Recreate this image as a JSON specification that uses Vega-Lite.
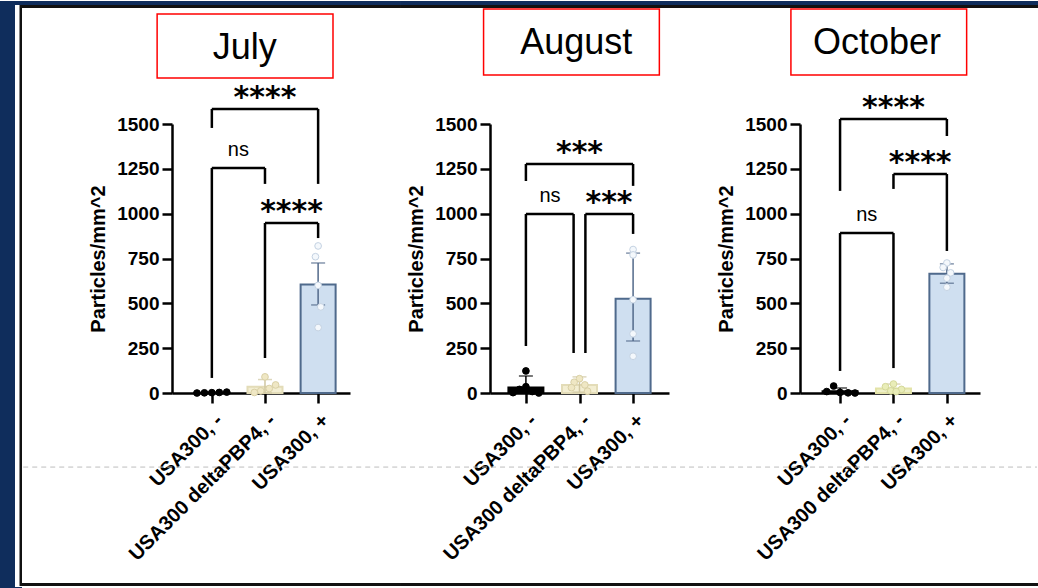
{
  "$schema": "https://vega.github.io/schema/vega-lite/v6.json",
  "padding": 0,
  "background": "white",
  "datasets": {
    "titles": [
      {"month": "July"}, {"month": "August"}, {"month": "October"}
    ],
    "bars": [
      {"month": "July", "g": 1, "mean": 2, "lo": 0, "hi": 6},
      {"month": "July", "g": 2, "mean": 35, "lo": 0, "hi": 75},
      {"month": "July", "g": 3, "mean": 605, "lo": 491, "hi": 725},
      {"month": "August", "g": 1, "mean": 31, "lo": 0, "hi": 95},
      {"month": "August", "g": 2, "mean": 45, "lo": 5, "hi": 90},
      {"month": "August", "g": 3, "mean": 525, "lo": 290, "hi": 780},
      {"month": "October", "g": 1, "mean": 10, "lo": 0, "hi": 28},
      {"month": "October", "g": 2, "mean": 25, "lo": 5, "hi": 50},
      {"month": "October", "g": 3, "mean": 665, "lo": 612, "hi": 720}
    ],
    "points": [
      {"month": "July", "g": 1, "xj": 0.72, "value": 0},
      {"month": "July", "g": 1, "xj": 0.86, "value": 1},
      {"month": "July", "g": 1, "xj": 1.0, "value": 2},
      {"month": "July", "g": 1, "xj": 1.14, "value": 3},
      {"month": "July", "g": 1, "xj": 1.28, "value": 5},
      {"month": "July", "g": 2, "xj": 1.8, "value": 3},
      {"month": "July", "g": 2, "xj": 1.92, "value": 12},
      {"month": "July", "g": 2, "xj": 2.08, "value": 25},
      {"month": "July", "g": 2, "xj": 2.2, "value": 45},
      {"month": "July", "g": 2, "xj": 2.0, "value": 90},
      {"month": "July", "g": 3, "xj": 3.0, "value": 820},
      {"month": "July", "g": 3, "xj": 2.95, "value": 760},
      {"month": "July", "g": 3, "xj": 3.0, "value": 600},
      {"month": "July", "g": 3, "xj": 3.05, "value": 480},
      {"month": "July", "g": 3, "xj": 3.0, "value": 365},
      {"month": "August", "g": 1, "xj": 1.0, "value": 123},
      {"month": "August", "g": 1, "xj": 1.0, "value": 35},
      {"month": "August", "g": 1, "xj": 0.88, "value": 20},
      {"month": "August", "g": 1, "xj": 1.12, "value": 8},
      {"month": "August", "g": 1, "xj": 0.76, "value": 2},
      {"month": "August", "g": 1, "xj": 1.24, "value": 0},
      {"month": "August", "g": 2, "xj": 2.0, "value": 80},
      {"month": "August", "g": 2, "xj": 1.9, "value": 60},
      {"month": "August", "g": 2, "xj": 2.1, "value": 45},
      {"month": "August", "g": 2, "xj": 1.85, "value": 30},
      {"month": "August", "g": 2, "xj": 2.15, "value": 10},
      {"month": "August", "g": 3, "xj": 3.0, "value": 800},
      {"month": "August", "g": 3, "xj": 3.0, "value": 770},
      {"month": "August", "g": 3, "xj": 3.0, "value": 520},
      {"month": "August", "g": 3, "xj": 3.0, "value": 330},
      {"month": "August", "g": 3, "xj": 3.0, "value": 205},
      {"month": "October", "g": 1, "xj": 0.88, "value": 39},
      {"month": "October", "g": 1, "xj": 0.75, "value": 8},
      {"month": "October", "g": 1, "xj": 1.0, "value": 3},
      {"month": "October", "g": 1, "xj": 1.15, "value": 1},
      {"month": "October", "g": 1, "xj": 1.28, "value": 0},
      {"month": "October", "g": 2, "xj": 2.0, "value": 50},
      {"month": "October", "g": 2, "xj": 1.85, "value": 35},
      {"month": "October", "g": 2, "xj": 2.15, "value": 20},
      {"month": "October", "g": 2, "xj": 1.95, "value": 12},
      {"month": "October", "g": 2, "xj": 2.05, "value": 8},
      {"month": "October", "g": 3, "xj": 3.0, "value": 725},
      {"month": "October", "g": 3, "xj": 2.93, "value": 700},
      {"month": "October", "g": 3, "xj": 3.07, "value": 670},
      {"month": "October", "g": 3, "xj": 3.0, "value": 640},
      {"month": "October", "g": 3, "xj": 3.0, "value": 590}
    ],
    "brackets": [
      {"month": "July", "x1": 1, "x2": 3, "xm": 2, "y": 1584, "l1": 1478, "l2": 1166, "label": "****"},
      {"month": "July", "x1": 1, "x2": 2, "xm": 1.5, "y": 1255, "l1": 84, "l2": 1166, "label": "ns"},
      {"month": "July", "x1": 2, "x2": 3, "xm": 2.5, "y": 948, "l1": 195, "l2": 864, "label": "****"},
      {"month": "August", "x1": 1, "x2": 3, "xm": 2, "y": 1277, "l1": 1182, "l2": 1155, "label": "***"},
      {"month": "August", "x1": 1, "x2": 1.89, "xm": 1.45, "y": 998, "l1": 262, "l2": 223, "label": "ns"},
      {"month": "August", "x1": 2.11, "x2": 3, "xm": 2.55, "y": 998, "l1": 223, "l2": 887, "label": "***"},
      {"month": "October", "x1": 1, "x2": 3, "xm": 2, "y": 1528, "l1": 1127, "l2": 1433, "label": "****"},
      {"month": "October", "x1": 2, "x2": 3, "xm": 2.5, "y": 1221, "l1": 1138, "l2": 792, "label": "****"},
      {"month": "October", "x1": 1, "x2": 2, "xm": 1.5, "y": 892, "l1": 123, "l2": 139, "label": "ns"}
    ]
  },
  "hconcat": [
    {
      "width": 22,
      "height": 465,
      "data": {"values": [{}]},
      "layer": [
        {
          "mark": {"type": "rect", "color": "#0f2d5c"},
          "encoding": {
            "x": {"datum": 0, "type": "quantitative", "scale": {"domain": [0, 22], "nice": false, "zero": false, "padding": 0}, "axis": null},
            "x2": {"datum": 22},
            "y": {"datum": 0, "type": "quantitative", "scale": {"domain": [0, 465], "nice": false, "padding": 0}, "axis": null},
            "y2": {"datum": 588}
          }
        },
        {
          "mark": {"type": "rect", "color": "white"},
          "encoding": {
            "x": {"datum": 15, "type": "quantitative"},
            "x2": {"datum": 22},
            "y": {"datum": 2, "type": "quantitative"},
            "y2": {"datum": 584}
          }
        },
        {
          "mark": {"type": "rect", "color": "#111111"},
          "encoding": {
            "x": {"datum": 19.5, "type": "quantitative"},
            "x2": {"datum": 22},
            "y": {"datum": 3, "type": "quantitative"},
            "y2": {"datum": 584}
          }
        }
      ]
    },
    {
      "hconcat": [
        {
          "width": 178,
          "height": 269,
          "layer": [
            {
              "data": {"name": "titles"},
              "transform": [{"filter": "datum.month == 'July'"}],
              "mark": {"type": "rect", "color": "#0f2d5c"},
              "encoding": {
                "x": {"datum": -2.573, "type": "quantitative"},
                "x2": {"datum": 4.541},
                "y": {"datum": 2164, "type": "quantitative"},
                "y2": {"datum": 2186}
              }
            },
            {
              "data": {"name": "titles"},
              "transform": [{"filter": "datum.month == 'July'"}],
              "mark": {"type": "rect", "color": "#111111"},
              "encoding": {
                "x": {"datum": -2.573, "type": "quantitative"},
                "x2": {"datum": 4.541},
                "y": {"datum": 2147, "type": "quantitative"},
                "y2": {"datum": 2164}
              }
            },
            {
              "data": {"name": "titles"},
              "transform": [{"filter": "datum.month == 'July'"}],
              "mark": {"type": "rect", "color": "#111111"},
              "encoding": {
                "x": {"datum": -2.573, "type": "quantitative"},
                "x2": {"datum": 4.541},
                "y": {"datum": -1076, "type": "quantitative"},
                "y2": {"datum": -1060}
              }
            },
            {
              "data": {"name": "titles"},
              "transform": [{"filter": "datum.month == 'July'"}],
              "mark": {"type": "rule", "color": "#bdbdbd", "strokeWidth": 1, "strokeDash": [5, 4]},
              "encoding": {
                "x": {"datum": -2.55, "type": "quantitative"},
                "x2": {"datum": 4.52},
                "y": {"datum": -413, "type": "quantitative"}
              }
            },
            {
              "data": {"name": "titles"},
              "transform": [{"filter": "datum.month == 'July'"}],
              "mark": {"type": "rect", "fill": "white", "stroke": "#ff0000", "strokeWidth": 1.5},
              "encoding": {
                "x": {"datum": -0.03, "type": "quantitative"},
                "x2": {"datum": 3.28},
                "y": {"datum": 1756, "type": "quantitative"},
                "y2": {"datum": 2113}
              }
            },
            {
              "data": {"name": "titles"},
              "transform": [{"filter": "datum.month == 'July'"}],
              "mark": {"type": "text", "fontSize": 36, "font": "Liberation Sans", "baseline": "middle", "align": "center", "color": "black"},
              "encoding": {
                "x": {"datum": 1.62, "type": "quantitative"},
                "y": {"datum": 1924, "type": "quantitative"},
                "text": {"field": "month"}
              }
            },
            {
              "data": {"name": "bars"},
              "transform": [{"filter": "datum.month == 'July'"}],
              "mark": {"type": "bar", "width": 35, "strokeWidth": 2},
              "encoding": {
                "x": {"field": "g", "type": "quantitative", "scale": {"domain": [0.25, 3.6], "nice": false, "zero": false, "padding": 0},
                  "axis": {"values": [1, 2, 3], "title": null, "labelAngle": -45, "labelExpr": "datum.value == 1 ? 'USA300, -' : datum.value == 2 ? 'USA300 deltaPBP4, -' : 'USA300, +'"}},
                "y": {"field": "mean", "type": "quantitative", "scale": {"domain": [0, 1500], "nice": false, "padding": 0},
                  "axis": {"values": [0, 250, 500, 750, 1000, 1250, 1500], "format": "d", "title": "Particles/mm^2"}},
                "fill": {"field": "g", "type": "nominal", "scale": {"domain": [1, 2, 3], "range": ["#000000", "#f3eed2", "#cfdff0"]}, "legend": null},
                "stroke": {"field": "g", "type": "nominal", "scale": {"domain": [1, 2, 3], "range": ["#000000", "#e3dcb8", "#4f6a8c"]}, "legend": null}
              }
            },
            {
              "data": {"name": "bars"},
              "transform": [{"filter": "datum.month == 'July'"}],
              "mark": {"type": "rule", "strokeWidth": 1.5},
              "encoding": {
                "x": {"field": "g", "type": "quantitative"},
                "y": {"field": "lo", "type": "quantitative"},
                "y2": {"field": "hi"},
                "color": {"field": "g", "type": "nominal", "scale": {"domain": [1, 2, 3], "range": ["#000000", "#cfc6a0", "#52698a"]}, "legend": null}
              }
            },
            {
              "data": {"name": "bars"},
              "transform": [{"filter": "datum.month == 'July'"}],
              "mark": {"type": "tick", "orient": "horizontal", "size": 14, "thickness": 1.5},
              "encoding": {
                "x": {"field": "g", "type": "quantitative"},
                "y": {"field": "hi", "type": "quantitative"},
                "color": {"field": "g", "type": "nominal", "scale": {"domain": [1, 2, 3], "range": ["#000000", "#cfc6a0", "#52698a"]}, "legend": null}
              }
            },
            {
              "data": {"name": "bars"},
              "transform": [{"filter": "datum.month == 'July'"}],
              "mark": {"type": "tick", "orient": "horizontal", "size": 14, "thickness": 1.5},
              "encoding": {
                "x": {"field": "g", "type": "quantitative"},
                "y": {"field": "lo", "type": "quantitative"},
                "color": {"field": "g", "type": "nominal", "scale": {"domain": [1, 2, 3], "range": ["#000000", "#cfc6a0", "#52698a"]}, "legend": null}
              }
            },
            {
              "data": {"name": "points"},
              "transform": [{"filter": "datum.month == 'July'"}],
              "mark": {"type": "point", "filled": false, "shape": "circle", "size": 45, "strokeWidth": 1, "opacity": 1},
              "encoding": {
                "x": {"field": "xj", "type": "quantitative"},
                "y": {"field": "value", "type": "quantitative"},
                "fill": {"field": "g", "type": "nominal", "scale": {"domain": [1, 2, 3], "range": ["#000000", "#efe7c4", "#f4f8fc"]}, "legend": null},
                "stroke": {"field": "g", "type": "nominal", "scale": {"domain": [1, 2, 3], "range": ["#000000", "#d9d0a6", "#c4d2e2"]}, "legend": null}
              }
            },
            {
              "data": {"name": "brackets"},
              "transform": [{"filter": "datum.month == 'July'"}],
              "mark": {"type": "rule", "strokeWidth": 2.5, "color": "black"},
              "encoding": {
                "x": {"field": "x1", "type": "quantitative"},
                "x2": {"field": "x2"},
                "y": {"field": "y", "type": "quantitative"}
              }
            },
            {
              "data": {"name": "brackets"},
              "transform": [{"filter": "datum.month == 'July'"}],
              "mark": {"type": "rule", "strokeWidth": 2.5, "color": "black"},
              "encoding": {
                "x": {"field": "x1", "type": "quantitative"},
                "y": {"field": "l1", "type": "quantitative"},
                "y2": {"field": "y"}
              }
            },
            {
              "data": {"name": "brackets"},
              "transform": [{"filter": "datum.month == 'July'"}],
              "mark": {"type": "rule", "strokeWidth": 2.5, "color": "black"},
              "encoding": {
                "x": {"field": "x2", "type": "quantitative"},
                "y": {"field": "l2", "type": "quantitative"},
                "y2": {"field": "y"}
              }
            },
            {
              "data": {"name": "brackets"},
              "transform": [{"filter": "datum.month == 'July' && datum.label != 'ns'"}],
              "mark": {"type": "text", "font": "DejaVu Sans", "fontWeight": "bold", "fontSize": 30, "baseline": "alphabetic", "align": "center", "dy": -2, "color": "black"},
              "encoding": {
                "x": {"field": "xm", "type": "quantitative"},
                "y": {"field": "y", "type": "quantitative"},
                "text": {"field": "label"}
              }
            },
            {
              "data": {"name": "brackets"},
              "transform": [{"filter": "datum.month == 'July' && datum.label == 'ns'"}],
              "mark": {"type": "text", "font": "Liberation Sans", "fontSize": 20, "baseline": "alphabetic", "align": "center", "dy": -12, "color": "black"},
              "encoding": {
                "x": {"field": "xm", "type": "quantitative"},
                "y": {"field": "y", "type": "quantitative"},
                "text": {"field": "label"}
              }
            }
          ],
          "resolve": {"scale": {"fill": "independent", "stroke": "independent", "color": "independent"}}
        },
        {
          "width": 179,
          "height": 269,
          "layer": [
            {
              "data": {"name": "titles"},
              "transform": [{"filter": "datum.month == 'August'"}],
              "mark": {"type": "rect", "color": "#0f2d5c"},
              "encoding": {
                "x": {"datum": -1.349, "type": "quantitative"},
                "x2": {"datum": 4.435},
                "y": {"datum": 2164, "type": "quantitative"},
                "y2": {"datum": 2186}
              }
            },
            {
              "data": {"name": "titles"},
              "transform": [{"filter": "datum.month == 'August'"}],
              "mark": {"type": "rect", "color": "#111111"},
              "encoding": {
                "x": {"datum": -1.349, "type": "quantitative"},
                "x2": {"datum": 4.435},
                "y": {"datum": 2147, "type": "quantitative"},
                "y2": {"datum": 2164}
              }
            },
            {
              "data": {"name": "titles"},
              "transform": [{"filter": "datum.month == 'August'"}],
              "mark": {"type": "rect", "color": "#111111"},
              "encoding": {
                "x": {"datum": -1.349, "type": "quantitative"},
                "x2": {"datum": 4.435},
                "y": {"datum": -1076, "type": "quantitative"},
                "y2": {"datum": -1060}
              }
            },
            {
              "data": {"name": "titles"},
              "transform": [{"filter": "datum.month == 'August'"}],
              "mark": {"type": "rule", "color": "#bdbdbd", "strokeWidth": 1, "strokeDash": [5, 4]},
              "encoding": {
                "x": {"datum": -1.33, "type": "quantitative"},
                "x2": {"datum": 4.415},
                "y": {"datum": -413, "type": "quantitative"}
              }
            },
            {
              "data": {"name": "titles"},
              "transform": [{"filter": "datum.month == 'August'"}],
              "mark": {"type": "rect", "fill": "white", "stroke": "#ff0000", "strokeWidth": 1.5},
              "encoding": {
                "x": {"datum": 0.21, "type": "quantitative"},
                "x2": {"datum": 3.49},
                "y": {"datum": 1773, "type": "quantitative"},
                "y2": {"datum": 2141}
              }
            },
            {
              "data": {"name": "titles"},
              "transform": [{"filter": "datum.month == 'August'"}],
              "mark": {"type": "text", "fontSize": 36, "font": "Liberation Sans", "baseline": "middle", "align": "center", "color": "black"},
              "encoding": {
                "x": {"datum": 1.94, "type": "quantitative"},
                "y": {"datum": 1952, "type": "quantitative"},
                "text": {"field": "month"}
              }
            },
            {
              "data": {"name": "bars"},
              "transform": [{"filter": "datum.month == 'August'"}],
              "mark": {"type": "bar", "width": 35, "strokeWidth": 2},
              "encoding": {
                "x": {"field": "g", "type": "quantitative", "scale": {"domain": [0.33, 3.67], "nice": false, "zero": false, "padding": 0},
                  "axis": {"values": [1, 2, 3], "title": null, "labelAngle": -45, "labelExpr": "datum.value == 1 ? 'USA300, -' : datum.value == 2 ? 'USA300 deltaPBP4, -' : 'USA300, +'"}},
                "y": {"field": "mean", "type": "quantitative", "scale": {"domain": [0, 1500], "nice": false, "padding": 0},
                  "axis": {"values": [0, 250, 500, 750, 1000, 1250, 1500], "format": "d", "title": "Particles/mm^2"}},
                "fill": {"field": "g", "type": "nominal", "scale": {"domain": [1, 2, 3], "range": ["#000000", "#f3eed2", "#cfdff0"]}, "legend": null},
                "stroke": {"field": "g", "type": "nominal", "scale": {"domain": [1, 2, 3], "range": ["#000000", "#e3dcb8", "#4f6a8c"]}, "legend": null}
              }
            },
            {
              "data": {"name": "bars"},
              "transform": [{"filter": "datum.month == 'August'"}],
              "mark": {"type": "rule", "strokeWidth": 1.5},
              "encoding": {
                "x": {"field": "g", "type": "quantitative"},
                "y": {"field": "lo", "type": "quantitative"},
                "y2": {"field": "hi"},
                "color": {"field": "g", "type": "nominal", "scale": {"domain": [1, 2, 3], "range": ["#000000", "#cfc6a0", "#52698a"]}, "legend": null}
              }
            },
            {
              "data": {"name": "bars"},
              "transform": [{"filter": "datum.month == 'August'"}],
              "mark": {"type": "tick", "orient": "horizontal", "size": 14, "thickness": 1.5},
              "encoding": {
                "x": {"field": "g", "type": "quantitative"},
                "y": {"field": "hi", "type": "quantitative"},
                "color": {"field": "g", "type": "nominal", "scale": {"domain": [1, 2, 3], "range": ["#000000", "#cfc6a0", "#52698a"]}, "legend": null}
              }
            },
            {
              "data": {"name": "bars"},
              "transform": [{"filter": "datum.month == 'August'"}],
              "mark": {"type": "tick", "orient": "horizontal", "size": 14, "thickness": 1.5},
              "encoding": {
                "x": {"field": "g", "type": "quantitative"},
                "y": {"field": "lo", "type": "quantitative"},
                "color": {"field": "g", "type": "nominal", "scale": {"domain": [1, 2, 3], "range": ["#000000", "#cfc6a0", "#52698a"]}, "legend": null}
              }
            },
            {
              "data": {"name": "points"},
              "transform": [{"filter": "datum.month == 'August'"}],
              "mark": {"type": "point", "filled": false, "shape": "circle", "size": 45, "strokeWidth": 1, "opacity": 1},
              "encoding": {
                "x": {"field": "xj", "type": "quantitative"},
                "y": {"field": "value", "type": "quantitative"},
                "fill": {"field": "g", "type": "nominal", "scale": {"domain": [1, 2, 3], "range": ["#000000", "#efe7c4", "#f4f8fc"]}, "legend": null},
                "stroke": {"field": "g", "type": "nominal", "scale": {"domain": [1, 2, 3], "range": ["#000000", "#d9d0a6", "#c4d2e2"]}, "legend": null}
              }
            },
            {
              "data": {"name": "brackets"},
              "transform": [{"filter": "datum.month == 'August'"}],
              "mark": {"type": "rule", "strokeWidth": 2.5, "color": "black"},
              "encoding": {
                "x": {"field": "x1", "type": "quantitative"},
                "x2": {"field": "x2"},
                "y": {"field": "y", "type": "quantitative"}
              }
            },
            {
              "data": {"name": "brackets"},
              "transform": [{"filter": "datum.month == 'August'"}],
              "mark": {"type": "rule", "strokeWidth": 2.5, "color": "black"},
              "encoding": {
                "x": {"field": "x1", "type": "quantitative"},
                "y": {"field": "l1", "type": "quantitative"},
                "y2": {"field": "y"}
              }
            },
            {
              "data": {"name": "brackets"},
              "transform": [{"filter": "datum.month == 'August'"}],
              "mark": {"type": "rule", "strokeWidth": 2.5, "color": "black"},
              "encoding": {
                "x": {"field": "x2", "type": "quantitative"},
                "y": {"field": "l2", "type": "quantitative"},
                "y2": {"field": "y"}
              }
            },
            {
              "data": {"name": "brackets"},
              "transform": [{"filter": "datum.month == 'August' && datum.label != 'ns'"}],
              "mark": {"type": "text", "font": "DejaVu Sans", "fontWeight": "bold", "fontSize": 30, "baseline": "alphabetic", "align": "center", "dy": -2, "color": "black"},
              "encoding": {
                "x": {"field": "xm", "type": "quantitative"},
                "y": {"field": "y", "type": "quantitative"},
                "text": {"field": "label"}
              }
            },
            {
              "data": {"name": "brackets"},
              "transform": [{"filter": "datum.month == 'August' && datum.label == 'ns'"}],
              "mark": {"type": "text", "font": "Liberation Sans", "fontSize": 20, "baseline": "alphabetic", "align": "center", "dy": -12, "color": "black"},
              "encoding": {
                "x": {"field": "xm", "type": "quantitative"},
                "y": {"field": "y", "type": "quantitative"},
                "text": {"field": "label"}
              }
            }
          ],
          "resolve": {"scale": {"fill": "independent", "stroke": "independent", "color": "independent"}}
        },
        {
          "width": 180,
          "height": 269,
          "layer": [
            {
              "data": {"name": "titles"},
              "transform": [{"filter": "datum.month == 'October'"}],
              "mark": {"type": "rect", "color": "#0f2d5c"},
              "encoding": {
                "x": {"datum": -1.435, "type": "quantitative"},
                "x2": {"datum": 4.706},
                "y": {"datum": 2164, "type": "quantitative"},
                "y2": {"datum": 2186}
              }
            },
            {
              "data": {"name": "titles"},
              "transform": [{"filter": "datum.month == 'October'"}],
              "mark": {"type": "rect", "color": "#111111"},
              "encoding": {
                "x": {"datum": -1.435, "type": "quantitative"},
                "x2": {"datum": 4.706},
                "y": {"datum": 2147, "type": "quantitative"},
                "y2": {"datum": 2164}
              }
            },
            {
              "data": {"name": "titles"},
              "transform": [{"filter": "datum.month == 'October'"}],
              "mark": {"type": "rect", "color": "#111111"},
              "encoding": {
                "x": {"datum": -1.435, "type": "quantitative"},
                "x2": {"datum": 4.706},
                "y": {"datum": -1076, "type": "quantitative"},
                "y2": {"datum": -1060}
              }
            },
            {
              "data": {"name": "titles"},
              "transform": [{"filter": "datum.month == 'October'"}],
              "mark": {"type": "rule", "color": "#bdbdbd", "strokeWidth": 1, "strokeDash": [5, 4]},
              "encoding": {
                "x": {"datum": -1.415, "type": "quantitative"},
                "x2": {"datum": 4.686},
                "y": {"datum": -413, "type": "quantitative"}
              }
            },
            {
              "data": {"name": "titles"},
              "transform": [{"filter": "datum.month == 'October'"}],
              "mark": {"type": "rect", "fill": "white", "stroke": "#ff0000", "strokeWidth": 1.5},
              "encoding": {
                "x": {"datum": 0.08, "type": "quantitative"},
                "x2": {"datum": 3.37},
                "y": {"datum": 1773, "type": "quantitative"},
                "y2": {"datum": 2141}
              }
            },
            {
              "data": {"name": "titles"},
              "transform": [{"filter": "datum.month == 'October'"}],
              "mark": {"type": "text", "fontSize": 36, "font": "Liberation Sans", "baseline": "middle", "align": "center", "color": "black"},
              "encoding": {
                "x": {"datum": 1.69, "type": "quantitative"},
                "y": {"datum": 1952, "type": "quantitative"},
                "text": {"field": "month"}
              }
            },
            {
              "data": {"name": "bars"},
              "transform": [{"filter": "datum.month == 'October'"}],
              "mark": {"type": "bar", "width": 35, "strokeWidth": 2},
              "encoding": {
                "x": {"field": "g", "type": "quantitative", "scale": {"domain": [0.25, 3.62], "nice": false, "zero": false, "padding": 0},
                  "axis": {"values": [1, 2, 3], "title": null, "labelAngle": -45, "labelExpr": "datum.value == 1 ? 'USA300, -' : datum.value == 2 ? 'USA300 deltaPBP4, -' : 'USA300, +'"}},
                "y": {"field": "mean", "type": "quantitative", "scale": {"domain": [0, 1500], "nice": false, "padding": 0},
                  "axis": {"values": [0, 250, 500, 750, 1000, 1250, 1500], "format": "d", "title": "Particles/mm^2"}},
                "fill": {"field": "g", "type": "nominal", "scale": {"domain": [1, 2, 3], "range": ["#000000", "#eef0c8", "#cfdff0"]}, "legend": null},
                "stroke": {"field": "g", "type": "nominal", "scale": {"domain": [1, 2, 3], "range": ["#000000", "#e3e3a8", "#4f6a8c"]}, "legend": null}
              }
            },
            {
              "data": {"name": "bars"},
              "transform": [{"filter": "datum.month == 'October'"}],
              "mark": {"type": "rule", "strokeWidth": 1.5},
              "encoding": {
                "x": {"field": "g", "type": "quantitative"},
                "y": {"field": "lo", "type": "quantitative"},
                "y2": {"field": "hi"},
                "color": {"field": "g", "type": "nominal", "scale": {"domain": [1, 2, 3], "range": ["#000000", "#cfc6a0", "#52698a"]}, "legend": null}
              }
            },
            {
              "data": {"name": "bars"},
              "transform": [{"filter": "datum.month == 'October'"}],
              "mark": {"type": "tick", "orient": "horizontal", "size": 14, "thickness": 1.5},
              "encoding": {
                "x": {"field": "g", "type": "quantitative"},
                "y": {"field": "hi", "type": "quantitative"},
                "color": {"field": "g", "type": "nominal", "scale": {"domain": [1, 2, 3], "range": ["#000000", "#cfc6a0", "#52698a"]}, "legend": null}
              }
            },
            {
              "data": {"name": "bars"},
              "transform": [{"filter": "datum.month == 'October'"}],
              "mark": {"type": "tick", "orient": "horizontal", "size": 14, "thickness": 1.5},
              "encoding": {
                "x": {"field": "g", "type": "quantitative"},
                "y": {"field": "lo", "type": "quantitative"},
                "color": {"field": "g", "type": "nominal", "scale": {"domain": [1, 2, 3], "range": ["#000000", "#cfc6a0", "#52698a"]}, "legend": null}
              }
            },
            {
              "data": {"name": "points"},
              "transform": [{"filter": "datum.month == 'October'"}],
              "mark": {"type": "point", "filled": false, "shape": "circle", "size": 45, "strokeWidth": 1, "opacity": 1},
              "encoding": {
                "x": {"field": "xj", "type": "quantitative"},
                "y": {"field": "value", "type": "quantitative"},
                "fill": {"field": "g", "type": "nominal", "scale": {"domain": [1, 2, 3], "range": ["#000000", "#e9edb8", "#f4f8fc"]}, "legend": null},
                "stroke": {"field": "g", "type": "nominal", "scale": {"domain": [1, 2, 3], "range": ["#000000", "#d4d89a", "#c4d2e2"]}, "legend": null}
              }
            },
            {
              "data": {"name": "brackets"},
              "transform": [{"filter": "datum.month == 'October'"}],
              "mark": {"type": "rule", "strokeWidth": 2.5, "color": "black"},
              "encoding": {
                "x": {"field": "x1", "type": "quantitative"},
                "x2": {"field": "x2"},
                "y": {"field": "y", "type": "quantitative"}
              }
            },
            {
              "data": {"name": "brackets"},
              "transform": [{"filter": "datum.month == 'October'"}],
              "mark": {"type": "rule", "strokeWidth": 2.5, "color": "black"},
              "encoding": {
                "x": {"field": "x1", "type": "quantitative"},
                "y": {"field": "l1", "type": "quantitative"},
                "y2": {"field": "y"}
              }
            },
            {
              "data": {"name": "brackets"},
              "transform": [{"filter": "datum.month == 'October'"}],
              "mark": {"type": "rule", "strokeWidth": 2.5, "color": "black"},
              "encoding": {
                "x": {"field": "x2", "type": "quantitative"},
                "y": {"field": "l2", "type": "quantitative"},
                "y2": {"field": "y"}
              }
            },
            {
              "data": {"name": "brackets"},
              "transform": [{"filter": "datum.month == 'October' && datum.label != 'ns'"}],
              "mark": {"type": "text", "font": "DejaVu Sans", "fontWeight": "bold", "fontSize": 30, "baseline": "alphabetic", "align": "center", "dy": -2, "color": "black"},
              "encoding": {
                "x": {"field": "xm", "type": "quantitative"},
                "y": {"field": "y", "type": "quantitative"},
                "text": {"field": "label"}
              }
            },
            {
              "data": {"name": "brackets"},
              "transform": [{"filter": "datum.month == 'October' && datum.label == 'ns'"}],
              "mark": {"type": "text", "font": "Liberation Sans", "fontSize": 20, "baseline": "alphabetic", "align": "center", "dy": -12, "color": "black"},
              "encoding": {
                "x": {"field": "xm", "type": "quantitative"},
                "y": {"field": "y", "type": "quantitative"},
                "text": {"field": "label"}
              }
            }
          ],
          "resolve": {"scale": {"fill": "independent", "stroke": "independent", "color": "independent"}}
        }
      ],
      "spacing": 0,
      "resolve": {"scale": {"x": "independent", "y": "independent", "fill": "independent", "stroke": "independent", "color": "independent"}}
    }
  ],
  "spacing": 0,
  "resolve": {"scale": {"x": "independent", "y": "independent"}},
  "config": {
    "view": {"stroke": null},
    "font": "Liberation Sans",
    "axis": {
      "grid": false,
      "domainColor": "black",
      "domainWidth": 2.5,
      "tickColor": "black",
      "tickWidth": 2.5,
      "tickSize": 10,
      "labelColor": "black",
      "labelFont": "Liberation Sans",
      "labelFontWeight": "bold",
      "labelPadding": 3,
      "labelOverlap": false,
      "labelBound": false,
      "labelLimit": 0,
      "titleColor": "black",
      "titleFont": "Liberation Sans",
      "titleFontSize": 20,
      "titleFontWeight": "bold",
      "titlePadding": 8
    },
    "axisY": {"labelFontSize": 19},
    "axisX": {"labelFontSize": 20, "labelPadding": 7}
  }
}
